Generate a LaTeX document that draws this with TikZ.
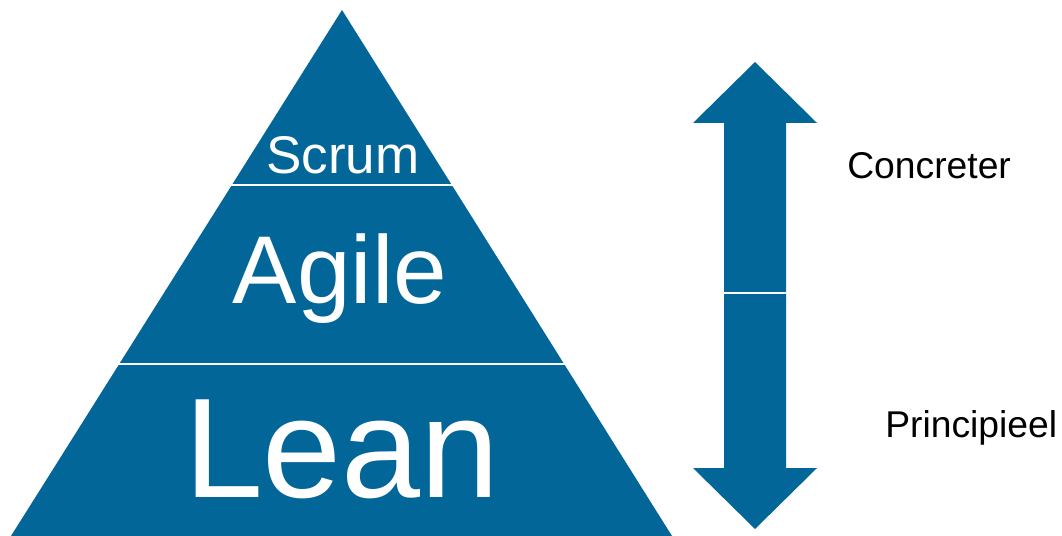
\documentclass[tikz,border=0pt]{standalone}
\usepackage{fontspec}
\setmainfont{Liberation Sans}
\usepackage{xcolor}
\definecolor{pyrblue}{RGB}{2,102,153}

\begin{document}
\begin{tikzpicture}[x=0.025cm, y=-0.025cm,
    laag/.style={white, inner sep=0, anchor=base},
    zijtekst/.style={black, inner sep=0, anchor=base west, font=\fontsize{26.5}{28}\selectfont}]
    \useasboundingbox (0, 0) rectangle (1062, 536);
    % piramide
    \fill[pyrblue] (342, 10) -- (672, 536) -- (11, 536) -- cycle;
    \draw[white, line width=2pt] (200, 185) -- (480, 185);
    \draw[white, line width=2pt] (100, 364) -- (590, 364);
    \node[laag, font=\fontsize{37.7}{40}\selectfont] (scrum) at (343, 174) {Scrum};
    \node[laag, font=\fontsize{68.5}{70}\selectfont] (agile) at (340, 304) {Agile};
    \node[laag, font=\fontsize{101}{104}\selectfont] (lean) at (342, 497) {Lean};
    % dubbele pijl
    \fill[pyrblue] (755, 62) -- (817, 123) -- (786, 123) -- (786, 468) -- (817, 468)
        -- (755, 529) -- (693, 468) -- (724, 468) -- (724, 123) -- (693, 123) -- cycle;
    \draw[white, line width=1.5pt] (720, 293) -- (790, 293);
    \node[zijtekst] (concreter) at (847, 179) {Concreter};
    \node[zijtekst] (principieel) at (885, 437) {Principieel};
  \end{tikzpicture}
\end{document}
